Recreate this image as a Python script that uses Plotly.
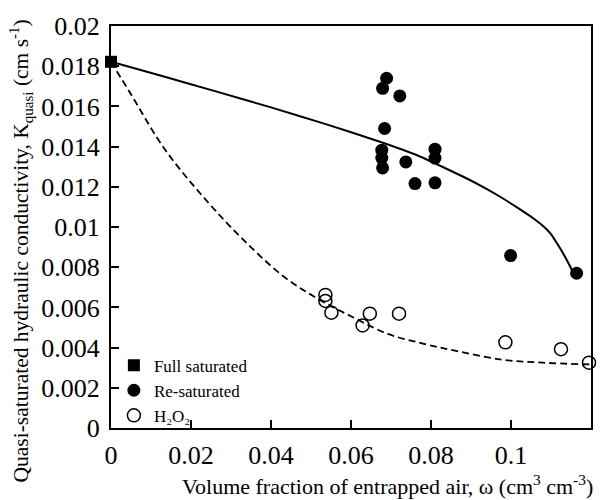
import plotly.graph_objects as go

# Data
full_x = [0.0]
full_y = [0.01822]

resat_x = [0.0689, 0.0679, 0.0722, 0.0684, 0.0677, 0.0677, 0.0679, 0.0737, 0.0760, 0.0810, 0.0810, 0.0810, 0.0999, 0.1164]
resat_y = [0.0174, 0.0169, 0.01652, 0.0149, 0.01382, 0.01343, 0.01294, 0.01324, 0.01216, 0.01387, 0.01343, 0.0122, 0.00858, 0.0077]

h2o2_x = [0.0536, 0.0536, 0.0551, 0.0629, 0.0647, 0.0720, 0.0986, 0.1125, 0.1195]
h2o2_y = [0.00662, 0.00632, 0.00574, 0.0051, 0.00569, 0.00569, 0.00426, 0.00392, 0.00325]

solid_x = [0.0, 0.013, 0.026, 0.040, 0.0537, 0.0676, 0.0764, 0.0849, 0.0891, 0.0933, 0.0975, 0.1016,
           0.1058, 0.1083, 0.1100, 0.1112, 0.1125, 0.1142, 0.1158]
solid_y = [0.01822, 0.01750, 0.01676, 0.01595, 0.01512, 0.01422, 0.01358, 0.01280, 0.01240, 0.01196,
           0.01148, 0.01096, 0.0104, 0.01000, 0.00964, 0.00928, 0.00887, 0.00826, 0.00764]

dash_x = [0.0, 0.005, 0.01336, 0.0234, 0.0335, 0.0436, 0.052, 0.0606, 0.0692, 0.078, 0.086, 0.0978, 0.108, 0.1197]
dash_y = [0.01822, 0.0166, 0.01389, 0.01142, 0.00928, 0.00747, 0.0064, 0.0055, 0.00468, 0.0042, 0.00385, 0.0034, 0.00325, 0.00316]

x_ticks = [0, 0.02, 0.04, 0.06, 0.08, 0.1, 0.12]
x_labels = ["0", "0.02", "0.04", "0.06", "0.08", "0.1", "0.12"]
y_ticks = [0, 0.002, 0.004, 0.006, 0.008, 0.01, 0.012, 0.014, 0.016, 0.018, 0.02]
y_labels = ["0", "0.002", "0.004", "0.006", "0.008", "0.01", "0.012", "0.014", "0.016", "0.018", "0.02"]

x_title = "Volume fraction of entrapped air, ω (cm<sup>3</sup> cm<sup>-3</sup>)"
y_title = "Quasi-saturated hydraulic conductivity, K<sub>quasi</sub> (cm s<sup>-1</sup>)"

FONT = "Liberation Serif"

fig = go.Figure()
fig.add_trace(go.Scatter(x=solid_x, y=solid_y, mode="lines",
                         line=dict(color="black", width=2, shape="spline", smoothing=0.5),
                         showlegend=False, hoverinfo="skip"))
fig.add_trace(go.Scatter(x=dash_x, y=dash_y, mode="lines",
                         line=dict(color="black", width=1.8, dash="7px,4px", shape="spline"),
                         showlegend=False, hoverinfo="skip"))
fig.add_trace(go.Scatter(x=full_x, y=full_y, mode="markers", name="Full saturated",
                         marker=dict(symbol="square", size=12, color="black"), cliponaxis=False))
fig.add_trace(go.Scatter(x=resat_x, y=resat_y, mode="markers", name="Re-saturated",
                         marker=dict(symbol="circle", size=13, color="black"), cliponaxis=False))
fig.add_trace(go.Scatter(x=h2o2_x, y=h2o2_y, mode="markers", name="H₂O₂",
                         marker=dict(symbol="circle-open", size=13, color="black", line=dict(width=1.5)),
                         cliponaxis=False))

fig.update_layout(
    width=612, height=500,
    margin=dict(l=111, r=21, t=24, b=72),
    paper_bgcolor="white", plot_bgcolor="white",
    font=dict(family=FONT, color="black"),
    showlegend=True,
    legend=dict(x=0.006, y=0.2, xanchor="left", yanchor="top", bgcolor="rgba(0,0,0,0)",
                font=dict(size=17, family=FONT), itemwidth=30, tracegroupgap=0),
    xaxis=dict(range=[0, 0.12], tickvals=x_ticks, ticktext=x_labels, ticks="inside", ticklen=8,
               tickwidth=1.5, tickcolor="black", showline=True, linecolor="black", linewidth=2,
               mirror=True, showgrid=False, zeroline=False, tickfont=dict(size=26, family=FONT),
               ticklabelstandoff=3),
    yaxis=dict(range=[0, 0.02], tickvals=y_ticks, ticktext=y_labels, ticks="inside", ticklen=8,
               tickwidth=1.5, tickcolor="black", showline=True, linecolor="black", linewidth=2,
               mirror=True, showgrid=False, zeroline=False, tickfont=dict(size=26, family=FONT),
               ticklabelstandoff=4),
    annotations=[
        dict(text=x_title, xref="paper", yref="paper", x=0.576, y=-0.141, xanchor="center",
             yanchor="middle", showarrow=False, font=dict(size=22, family=FONT)),
        dict(text=y_title, xref="paper", yref="paper", x=-0.188, y=0.441, xanchor="center",
             yanchor="middle", textangle=-90, showarrow=False, font=dict(size=21.5, family=FONT)),
    ],
)

fig.write_html("out.html")
